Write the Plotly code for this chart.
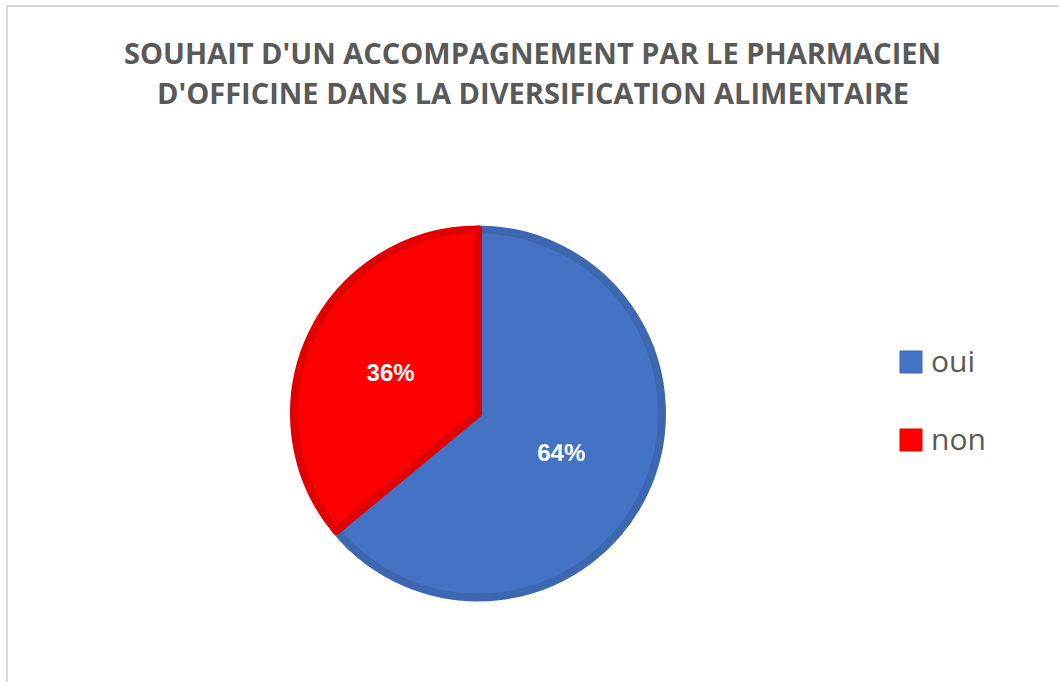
import plotly.graph_objects as go

# Survey answers
categories = ["oui", "non"]
shares = [64, 36]
fill_colors = ["#4472C4", "#FF0000"]
edge_colors = ["#3E67B1", "#E00000"]

title_lines = [
    "SOUHAIT D'UN ACCOMPAGNEMENT PAR LE PHARMACIEN",
    "D'OFFICINE DANS LA DIVERSIFICATION ALIMENTAIRE",
]

W, H = 1059, 682

# Pie geometry (pixels)
cx, cy, r = 478, 413.5, 184

fig = go.Figure(
    go.Pie(
        labels=categories,
        values=shares,
        sort=False,
        direction="clockwise",
        rotation=0,
        marker=dict(colors=fill_colors, line=dict(color=edge_colors, width=8)),
        textinfo="percent",
        texttemplate="%{percent:.0%}",
        textposition="inside",
        insidetextorientation="horizontal",
        textfont=dict(family="Liberation Sans, Arial", size=24, color="white", weight="bold"),
        domain=dict(
            x=[(cx - r) / W, (cx + r) / W],
            y=[(H - cy - r) / H, (H - cy + r) / H],
        ),
        showlegend=False,
        hoverinfo="label+percent",
    )
)

shapes = [
    # chart frame
    dict(type="rect", xref="paper", yref="paper",
         x0=7 / W, x1=1.02, y0=-0.02, y1=1 - 6 / H,
         line=dict(color="#D9D9D9", width=2), fillcolor="rgba(0,0,0,0)", layer="below"),
]
annotations = []

# Title
for i, line in enumerate(title_lines):
    annotations.append(dict(
        text=line, xref="paper", yref="paper",
        x=532.5 / W, y=1 - (52 + 40 * i) / H,
        xanchor="center", yanchor="middle", showarrow=False,
        font=dict(family="Open Sans", size=29, color="#595959", weight="bold"),
    ))

# Legend
leg_x, leg_y0, leg_dy, sq = 911, 362, 78, 22
for i, (name, fc, ec) in enumerate(zip(categories, fill_colors, edge_colors)):
    y = leg_y0 + leg_dy * i
    shapes.append(dict(
        type="rect", xref="paper", yref="paper",
        x0=(leg_x - sq / 2) / W, x1=(leg_x + sq / 2) / W,
        y0=1 - (y + sq / 2) / H, y1=1 - (y - sq / 2) / H,
        fillcolor=fc, line=dict(color=ec, width=1),
    ))
    annotations.append(dict(
        text=name, xref="paper", yref="paper",
        x=929 / W, y=1 - (y - 2) / H,
        xanchor="left", yanchor="middle", showarrow=False,
        font=dict(family="Open Sans", size=30, color="#595959"),
    ))

fig.update_layout(
    width=W, height=H,
    margin=dict(l=0, r=0, t=0, b=0),
    paper_bgcolor="white",
    plot_bgcolor="white",
    shapes=shapes,
    annotations=annotations,
)

fig.write_html("out.html")
